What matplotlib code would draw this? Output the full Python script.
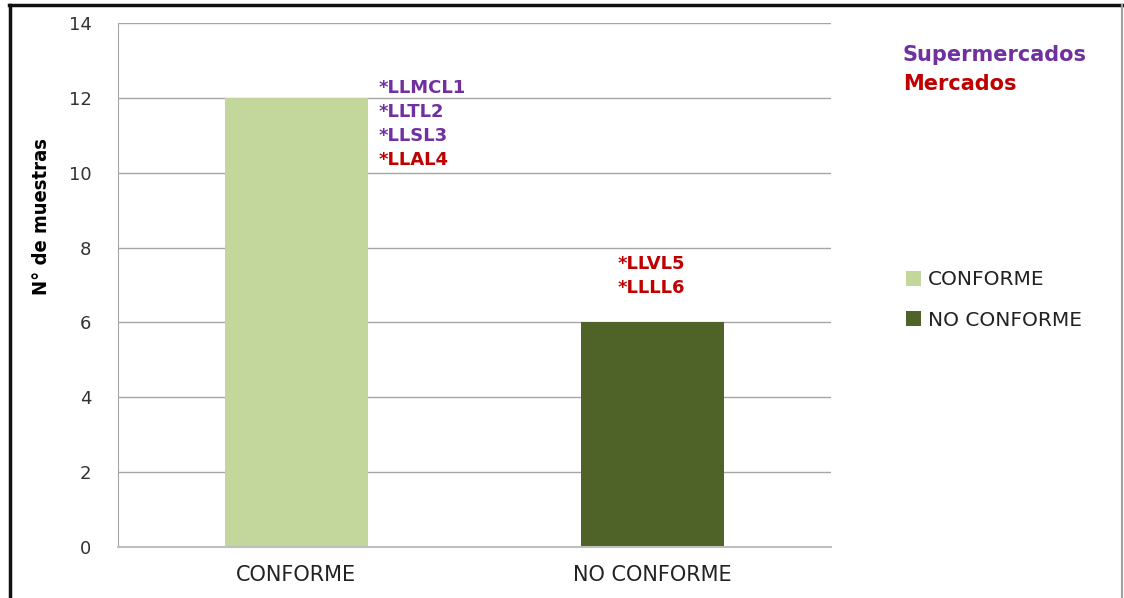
import matplotlib.pyplot as plt
from matplotlib.lines import Line2D
from matplotlib.patches import Patch

# data
categories = ["CONFORME", "NO CONFORME"]
counts = [12, 6]
bar_colors = ["#C3D69B", "#4F6228"]
conforme_tags = ["*LLMCL1", "*LLTL2", "*LLSL3", "*LLAL4"]
conforme_tag_colors = ["#7030A0", "#7030A0", "#7030A0", "#C00000"]
no_conforme_tags = ["*LLVL5", "*LLLL6"]
no_conforme_tag_colors = ["#C00000", "#C00000"]

W, H = 1124, 598
fig = plt.figure(figsize=(W / 100, H / 100), dpi=100)
ax = fig.add_axes([118 / W, 1 - 547 / H, (831 - 118) / W, (547 - 23) / H])

x = list(range(len(categories)))
bars = ax.bar(x, counts, width=0.4, color=bar_colors, zorder=2)

ax.set_xlim(-0.5, 1.5)
ax.set_ylim(0, 14)
ax.set_yticks(range(0, 15, 2))
ax.set_xticks(x)
ax.set_xticklabels(categories, fontsize=15, color="#222222")
ax.tick_params(axis="y", labelsize=13, colors="#333333", length=0, pad=19)
ax.tick_params(axis="x", length=0, pad=13)
ax.yaxis.grid(True, color="#A6A6A6", linewidth=1, zorder=0)
for s in ["top", "right"]:
    ax.spines[s].set_visible(False)
ax.spines["left"].set_color("#A6A6A6")
ax.spines["bottom"].set_color("#BFBFBF")
ax.spines["bottom"].set_linewidth(1.5)

ax.set_ylabel("N° de muestras", fontsize=14.5, fontweight="bold",
              fontstretch="condensed")
ax.yaxis.set_label_coords(-0.094, 0.63)

# tags next to bars
b0 = bars[0]
for i, (t, c) in enumerate(zip(conforme_tags, conforme_tag_colors)):
    ax.annotate(t, (b0.get_x() + b0.get_width(), counts[0]),
                xytext=(8, 7 - i * 17.3), textcoords="offset points",
                ha="left", va="center", fontsize=13, fontweight="bold", color=c)
b1 = bars[1]
for i, (t, c) in enumerate(zip(no_conforme_tags, no_conforme_tag_colors)):
    ax.annotate(t, (b1.get_x(), counts[1]),
                xytext=(26, 42 - i * 17.3), textcoords="offset points",
                ha="left", va="center", fontsize=13, fontweight="bold", color=c)

# legend-like source labels
fig.text(903 / W, 1 - 55 / H, "Supermercados", color="#7030A0", fontsize=15,
         fontweight="bold", ha="left", va="center")
fig.text(903 / W, 1 - 84 / H, "Mercados", color="#C00000", fontsize=15,
         fontweight="bold", ha="left", va="center")

handles = [Patch(facecolor=c, edgecolor="none") for c in bar_colors]
fig.legend(handles, categories, loc="center left",
           bbox_to_anchor=(888 / W, 1 - 300 / H), frameon=False,
           fontsize=14.5, handlelength=0.75, handleheight=0.75,
           handletextpad=0.35, labelspacing=1.05, labelcolor="#222222")

# outer frame
fig.add_artist(Line2D([9 / W, 1122 / W], [1 - 5 / H, 1 - 5 / H], color="#111111", lw=2.5))
fig.add_artist(Line2D([10 / W, 10 / W], [0, 1 - 5 / H], color="#111111", lw=2.5))
fig.add_artist(Line2D([1122 / W, 1122 / W], [0, 1 - 5 / H], color="#A0A0A0", lw=1.5))

fig.savefig("out.png", dpi=100)
